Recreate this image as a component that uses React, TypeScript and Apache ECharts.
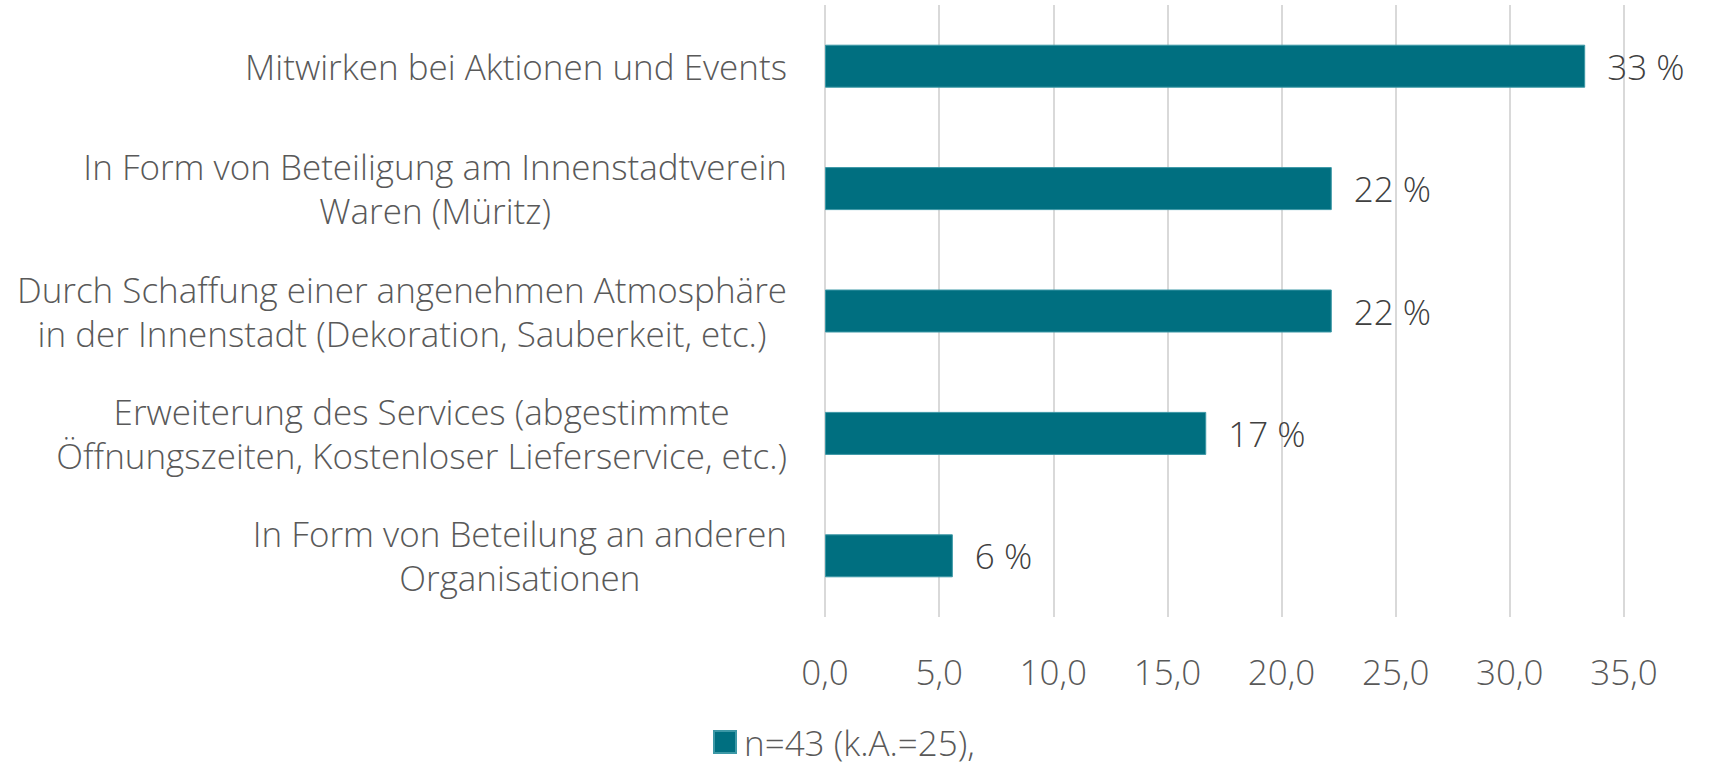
import React, { useEffect, useRef } from "react";
import * as echarts from "echarts";

const categories = [
  "Mitwirken bei Aktionen und Events",
  "In Form von Beteiligung am Innenstadtverein\nWaren (Müritz)",
  "Durch Schaffung einer angenehmen Atmosphäre\nin der Innenstadt (Dekoration, Sauberkeit, etc.)",
  "Erweiterung des Services (abgestimmte\nÖffnungszeiten, Kostenloser Lieferservice, etc.)",
  "In Form von Beteilung an anderen\nOrganisationen",
];
const values = [33.3, 22.2, 22.2, 16.7, 5.6];
const seriesName = "n=43 (k.A.=25),";
const axisMin = 0;
const axisMax = 35;
const axisStep = 5;

const FONT = "'Open Sans', 'Noto Sans', sans-serif";
const FS = 35;

export default function App() {
  const ref = useRef<HTMLDivElement>(null);
  useEffect(() => {
    if (!ref.current) return;
    const chart = echarts.init(ref.current, undefined, { renderer: "svg" });
    chart.setOption({
      animation: false,
      backgroundColor: "#ffffff",
      textStyle: { fontFamily: FONT },
      grid: { left: 825, right: 90, top: 5, bottom: 148, containLabel: false },
      legend: {
        show: true,
        top: 722,
        left: 713,
        padding: 0,
        icon: "rect",
        itemWidth: 22,
        itemHeight: 22,
        itemGap: 10,
        textStyle: {
          fontFamily: FONT,
          fontSize: FS,
          fontWeight: 300,
          color: "#595959",
          lineHeight: 40,
          padding: [0, 0, 0, 3],
        },
        data: [seriesName],
      },
      xAxis: {
        type: "value",
        min: axisMin,
        max: axisMax,
        interval: axisStep,
        axisLine: { show: false },
        axisTick: { show: false },
        splitLine: { show: true, lineStyle: { color: "#d9d9d9", width: 2 } },
        axisLabel: {
          margin: 37,
          fontFamily: FONT,
          fontSize: FS,
          fontWeight: 300,
          color: "#595959",
          formatter: (v: number) => v.toFixed(1).replace(".", ","),
        },
      },
      yAxis: {
        type: "category",
        inverse: true,
        data: categories,
        axisLine: { show: false },
        axisTick: { show: false },
        splitLine: { show: false },
        axisLabel: {
          margin: 38,
          fontFamily: FONT,
          fontSize: FS,
          fontWeight: 300,
          color: "#595959",
          lineHeight: 44,
          align: "right",
          formatter: (v: string) =>
            v
              .split("\n")
              .map((l) => `{c|${l}}`)
              .join("\n"),
          rich: {
            c: {
              align: "center",
              fontFamily: FONT,
              fontSize: FS,
              fontWeight: 300,
              color: "#595959",
              lineHeight: 44,
            },
          },
        },
      },
      series: [
        {
          name: seriesName,
          type: "bar",
          data: values,
          barWidth: 43,
          itemStyle: { color: "#006f80", borderColor: "#3c98a6", borderWidth: 1 },
          label: {
            show: true,
            position: "right",
            distance: 22,
            fontFamily: FONT,
            fontSize: FS,
            fontWeight: 300,
            color: "#404040",
            formatter: (p: any) => `${Math.round(p.value)} %`,
          },
        },
      ],
    });
    return () => chart.dispose();
  }, []);
  return (
    <div
      ref={ref}
      style={{ position: "fixed", left: 0, top: 0, width: 1714, height: 765 }}
    />
  );
}
